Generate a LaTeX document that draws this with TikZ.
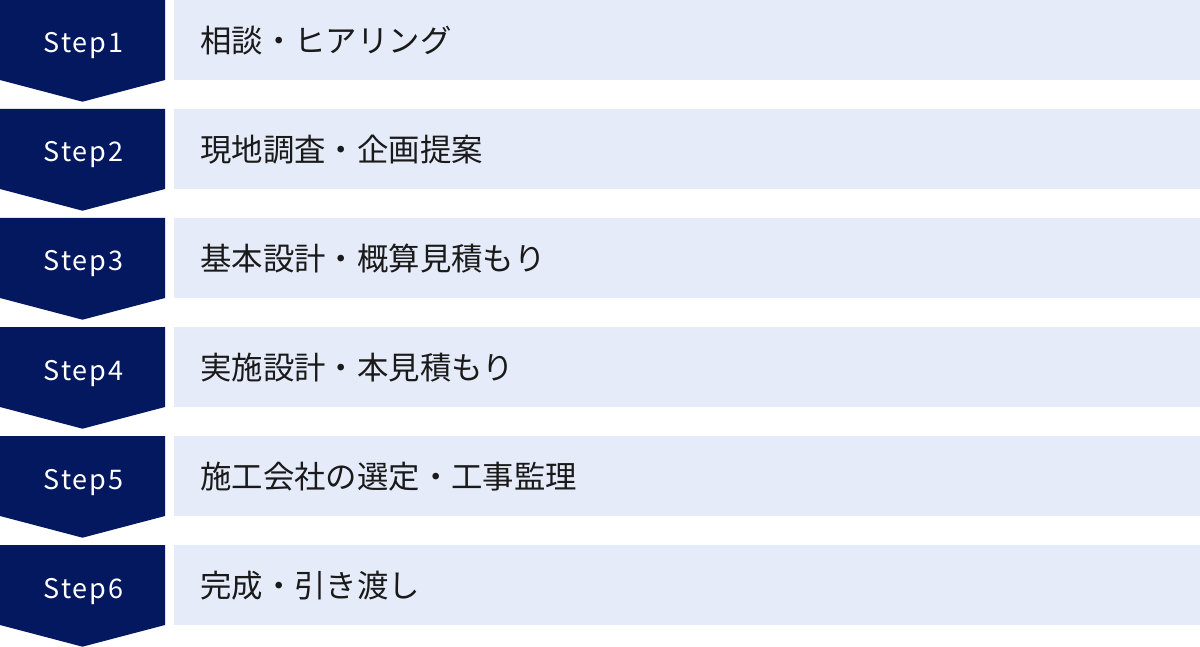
\documentclass[tikz,border=0pt]{standalone}
\usepackage{fontspec}
\setmainfont{Noto Sans CJK JP}
\newfontfamily\stepfont[LetterSpace=7]{Noto Sans CJK JP}
\definecolor{navy}{RGB}{4,24,96}
\definecolor{paleblue}{RGB}{229,235,249}
\definecolor{ink}{RGB}{26,26,26}
\begin{document}
\begin{tikzpicture}[x=1pt,y=-1pt,
  stepbox/.style = {fill=navy},
  steplabel/.style = {text=white, anchor=base, inner sep=0pt, font=\stepfont\fontsize{27}{32}\selectfont},
  task/.style = {fill=paleblue, anchor=north west, minimum width=1026pt, minimum height=80pt,
    inner xsep=26pt, inner ysep=0pt, text width=974pt, align=left, text=ink,
    font=\fontsize{31.4}{36}\selectfont}]
\useasboundingbox (0,0) rectangle (1200,647);

\fill[stepbox] (0,0) -- (165,0) -- (165,80) -- (82.5,101.7) -- (0,80) -- cycle;
\node[steplabel] (s1) at (83.5,53) {Step1};
\node[task] (t1) at (174,0) {相談・ヒアリング};

\fill[stepbox] (0,109) -- (165,109) -- (165,189) -- (82.5,210.7) -- (0,189) -- cycle;
\node[steplabel] (s2) at (83.5,162) {Step2};
\node[task] (t2) at (174,109) {現地調査・企画提案};

\fill[stepbox] (0,218) -- (165,218) -- (165,298) -- (82.5,319.7) -- (0,298) -- cycle;
\node[steplabel] (s3) at (83.5,271) {Step3};
\node[task] (t3) at (174,218) {基本設計・概算見積もり};

\fill[stepbox] (0,327) -- (165,327) -- (165,407) -- (82.5,428.7) -- (0,407) -- cycle;
\node[steplabel] (s4) at (83.5,380) {Step4};
\node[task] (t4) at (174,327) {実施設計・本見積もり};

\fill[stepbox] (0,436) -- (165,436) -- (165,516) -- (82.5,537.7) -- (0,516) -- cycle;
\node[steplabel] (s5) at (83.5,489) {Step5};
\node[task] (t5) at (174,436) {施工会社の選定・工事監理};

\fill[stepbox] (0,545) -- (165,545) -- (165,625) -- (82.5,646.7) -- (0,625) -- cycle;
\node[steplabel] (s6) at (83.5,598) {Step6};
\node[task] (t6) at (174,545) {完成・引き渡し};

\end{tikzpicture}
\end{document}
